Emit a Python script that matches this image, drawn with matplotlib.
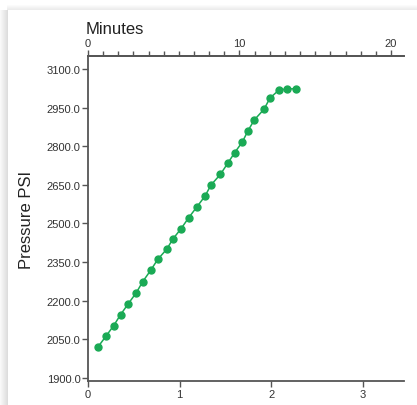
import matplotlib
matplotlib.use('Agg')
import matplotlib.pyplot as plt
import matplotlib.patches as mpatches
import numpy as np

plt.rcParams['font.family'] = ['Liberation Sans', 'DejaVu Sans']

# Readings: time (bottom axis units) and pressure in PSI
time_vals = [0.106, 0.196, 0.280, 0.356, 0.439, 0.527, 0.597, 0.684, 0.760,
             0.859, 0.927, 1.014, 1.098, 1.185, 1.276, 1.341, 1.443, 1.523,
             1.600, 1.683, 1.745, 1.814, 1.919, 1.985, 2.083, 2.170, 2.268]
pressure = [2019, 2062, 2103, 2146, 2188, 2231, 2274, 2318, 2360,
            2400, 2440, 2479, 2522, 2563, 2606, 2649, 2690, 2733,
            2775, 2816, 2860, 2902, 2943, 2987, 3018, 3022, 3023]

y_ticks = [1900, 2050, 2200, 2350, 2500, 2650, 2800, 2950, 3100]
bottom_ticks = [0, 1, 2, 3]
minute_major = [0, 10, 20]

W, H = 417, 406
fig = plt.figure(figsize=(W / 100, H / 100), dpi=100)
fig.patch.set_facecolor('white')

# card shadow on left and top edges
for i in range(8):
    a = 0.05 + 0.04 * i
    fig.add_artist(mpatches.Rectangle((i / W, 0), 1 / W, (H - 11) / H,
                                      transform=fig.transFigure,
                                      facecolor='#9a9a9a', alpha=a, lw=0, zorder=0))
for i in range(5):
    a = 0.03 + 0.04 * i
    fig.add_artist(mpatches.Rectangle((7 / W, (H - 7 - i) / H), 1 - 7 / W, 1 / H,
                                      transform=fig.transFigure,
                                      facecolor='#9a9a9a', alpha=a, lw=0, zorder=0))

ax = fig.add_axes([88 / W, 24 / H, (404 - 88) / W, (382 - 57) / H])
ax.plot(time_vals, pressure, color='#1aaa55', lw=1.1, marker='o', ms=5,
        markeredgecolor='#1aaa55', clip_on=False, zorder=3)

ax.set_xlim(0, 3.446)
ax.set_ylim(1888, 3150)
ax.set_xticks(bottom_ticks)
ax.set_yticks(y_ticks)
ax.set_yticklabels([f'{v:.1f}' for v in y_ticks])
ax.set_ylabel('Pressure PSI', fontsize=12, color='#222222', labelpad=9)

spine_c = '#555555'
for s in ['right']:
    ax.spines[s].set_visible(False)
for s in ['left', 'bottom', 'top']:
    ax.spines[s].set_color(spine_c)
    ax.spines[s].set_linewidth(1.3)
ax.tick_params(axis='both', colors=spine_c, labelcolor='#333333', labelsize=8,
               length=4, width=1, pad=1.5)

top = ax.twiny()
top.set_xlim(0, 20.86)
top.set_xticks(minute_major)
top.set_xticks(range(0, 21), minor=True)
for s in ['right', 'left', 'bottom']:
    top.spines[s].set_visible(False)
top.spines['top'].set_color(spine_c)
top.spines['top'].set_linewidth(1.3)
top.tick_params(axis='x', which='major', colors=spine_c, labelcolor='#333333',
                labelsize=8, length=4.5, width=1, pad=1.5)
top.tick_params(axis='x', which='minor', colors=spine_c, length=3.5, width=1)

fig.text(86 / W, 1 - 29 / H, 'Minutes', fontsize=12, color='#222222',
         ha='left', va='center')

fig.savefig('out.png', dpi=100)
